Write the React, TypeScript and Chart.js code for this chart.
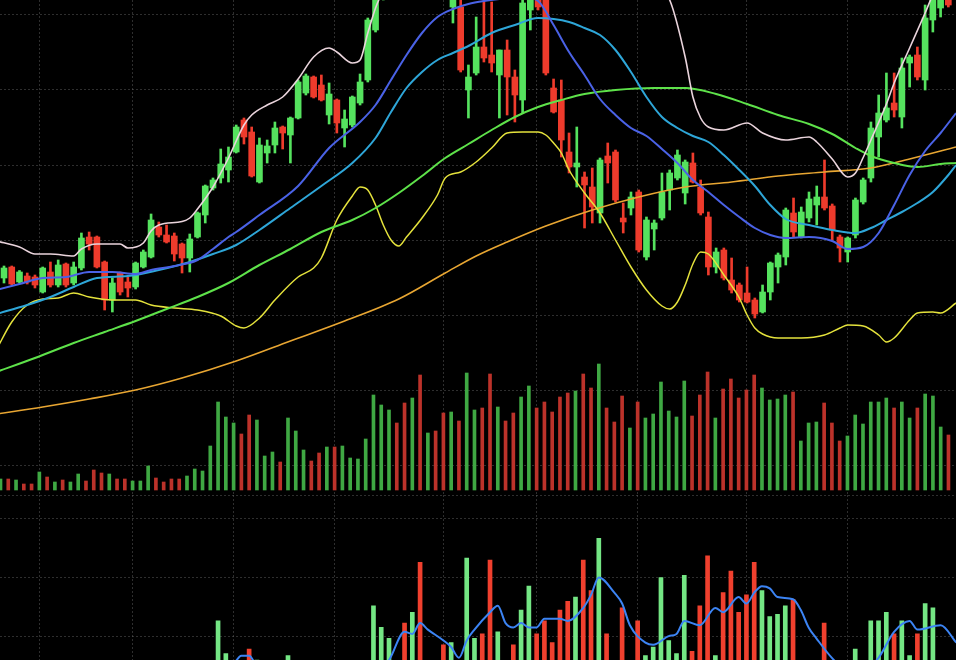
import React, { useEffect, useRef } from "react";
import { Chart, registerables } from "chart.js";

Chart.register(...registerables);

// ---- candles (price units) ----
const openP = [
  44.4, 46.6, 43.6, 44.8, 44.6, 41.6, 45.6, 43.0, 47.2, 43.4,
  46.4, 52.6, 52.6, 47.6, 40.0, 45.4, 43.6, 42.6, 46.6, 48.6,
  54.6, 53.0, 52.8, 51.2, 48.4, 52.6, 57.0, 62.4, 64.4, 66.0,
  69.6, 76.0, 73.6, 63.6, 69.4, 71.0, 74.6, 73.0, 76.4, 81.4,
  84.6, 83.0, 77.0, 80.0, 74.4, 75.0, 79.4, 84.0, 94.0, 101,
  105, 109, 105, 102, 111, 106, 114, 108, 98.6, 98.6,
  82, 85.4, 90.6, 89, 85, 90, 84.6, 80, 98, 103,
  101, 82.4, 80, 69.6, 66.6, 64.6, 62.6, 57.4, 68.8, 69.6,
  56.4, 58.4, 61.6, 48.6, 54.2, 56.4, 62, 64.4, 61.4, 67.4,
  62.6, 56.6, 46.6, 50, 44, 43, 41.4, 40, 37.6, 41.6,
  46.6, 48.6, 57.4, 52.6, 56.4, 59, 60.6, 58.8, 52.6, 49.6,
  53, 59.6, 64.4, 72.6, 76, 79.4, 76.6, 87.4, 89, 84,
  96, 98.4, 103,
];
const highP = [
  46.8, 46.8, 45.9, 45.4, 45.0, 46.6, 47.6, 48.0, 47.4, 47.6,
  53.4, 53.6, 52.8, 47.8, 44.4, 45.6, 44.6, 47.6, 50.0, 57.2,
  55.6, 55.0, 53.4, 51.4, 53.2, 57.6, 63.0, 64.4, 70.2, 70.6,
  75.0, 76.4, 74.6, 72.4, 72.0, 75.6, 74.8, 76.6, 84.0, 85.2,
  84.8, 85.0, 83.4, 80.2, 78.0, 80.8, 85.2, 96.4, 103.0, 106,
  110, 111, 107, 112, 113, 116, 115, 109, 104, 101,
  87, 96.6, 100.5, 99.6, 90, 92, 86, 101, 104, 104,
  102, 84.2, 84, 73.4, 74.6, 65.6, 66.4, 68.4, 71.4, 70,
  59.4, 61.6, 62, 56.6, 56, 65.4, 66, 70, 68, 69.4,
  64, 57.6, 50.4, 50.4, 48.4, 43.4, 46.6, 40.4, 43, 47.6,
  49.4, 58.4, 60.4, 58.6, 61.6, 62.8, 68, 59.2, 53, 52.6,
  60.4, 64.4, 75.6, 81, 85.4, 85.4, 88.4, 89, 90.6, 99,
  104, 104, 104,
];
const lowP = [
  43.4, 43.0, 43.4, 43.2, 42.4, 41.4, 42.6, 42.6, 42.6, 43.0,
  46.0, 50.0, 46.4, 38.0, 37.6, 41.0, 40.6, 42.2, 46.4, 48.4,
  52.6, 51.4, 47.8, 45.4, 45.6, 52.4, 55.4, 62.0, 63.4, 63.6,
  69.4, 71.2, 64.6, 63.4, 67.4, 69.4, 70.2, 67.4, 76.2, 81.0,
  80.4, 79.8, 75.2, 73.4, 70.6, 74.6, 79.0, 83.6, 93.6, 100,
  103, 104, 101, 101, 105, 105, 107, 101, 95.4, 85.6,
  76.4, 85, 87.6, 85.6, 76.4, 77, 75.6, 77.4, 94, 98,
  85, 77.4, 68.6, 65.4, 62.6, 54.4, 55.4, 55.4, 63.4, 59.6,
  53.4, 57, 49.6, 48, 50, 56, 58, 64, 59.2, 63.4,
  57, 45, 45.4, 44, 41.4, 39.6, 39.4, 36.4, 37.4, 40,
  43.4, 47, 52.6, 52.4, 55.6, 55, 58, 52, 47.6, 47.6,
  52.4, 59.2, 63.6, 68.6, 75.6, 76.6, 74.4, 82.6, 84, 82,
  93.6, 96.6, 98.6,
];
const closeP = [
  46.4, 43.2, 45.6, 43.6, 43.0, 46.4, 43.0, 47.0, 43.0, 46.6,
  52.4, 51.2, 46.6, 40.0, 43.4, 41.6, 42.4, 47.4, 49.6, 56.0,
  53.0, 51.6, 49.2, 48.4, 52.2, 57.4, 62.8, 64.0, 67.2, 68.6,
  74.6, 72.6, 64.8, 71.0, 70.8, 74.4, 73.4, 76.4, 83.6, 84.8,
  80.6, 80.0, 81.2, 75.4, 76.2, 80.6, 83.6, 96.0, 101.5, 105,
  109, 105, 102, 111, 106, 114, 108, 102, 102, 86,
  84.6, 90.6, 88.4, 87.4, 90, 84.6, 81, 99.4, 102, 98.6,
  85.4, 77.6, 72, 66.6, 67.4, 63, 58.6, 68, 67.4, 60,
  55.6, 60.6, 50, 56, 55.4, 61.6, 65.4, 69, 67.6, 63.6,
  57.4, 46.6, 49.6, 44.4, 42, 40, 39.6, 37.2, 41.6, 47.4,
  49, 58, 53.6, 57.6, 60.2, 60.6, 58.4, 54, 50.4, 52.4,
  60, 64, 74.4, 77.4, 78.4, 78, 86.4, 88.6, 84.6, 96.4,
  102, 103, 99,
];
const volume = [
  11, 11, 10, 6, 6, 18, 13, 8, 10, 8,
  16, 9, 20, 17, 16, 11, 11, 9, 9, 24,
  12, 8, 11, 11, 14, 21, 19, 44, 88, 73,
  67, 56, 75, 70, 34, 38, 28, 72, 59, 40,
  29, 37, 43, 43, 44, 32, 31, 51, 95, 85,
  80, 67, 87, 92, 115, 57, 59, 77, 78, 69,
  117, 80, 82, 116, 83, 69, 77, 93, 104, 82,
  88, 78, 93, 97, 99, 116, 102, 126, 82, 68,
  94, 62, 88, 72, 76, 108, 79, 73, 109, 74,
  95, 118, 72, 101, 111, 92, 100, 115, 102, 90,
  91, 95, 98, 49, 67, 68, 87, 67, 49, 54,
  75, 66, 88, 88, 92, 82, 88, 72, 82, 96,
  94, 63, 55,
];

// ---- moving-average style lines: [index, value] ----
const maWhite: [number, number][] = [
  [-1, 51.8], [2, 50.6], [4, 49.2], [6, 49.2], [9, 48.8], [10, 50.2], [12, 51.2], [15, 51.2],
  [16, 50.4], [18, 51.4], [19, 53.8], [20, 55], [23, 55.7], [24, 56.4], [25, 58.2], [27, 62.6],
  [29, 68.4], [31, 75], [32, 77], [34, 79], [36, 80.6], [38, 84.2], [40, 88.6], [42, 90.4],
  [43, 89.6], [45, 87.4], [46, 88], [47, 93.4], [48, 98.4], [49, 102], [51, 108], [55, 114],
  [61, 118], [69, 116], [79, 110], [84, 103], [86, 100], [88, 88.6], [89, 80.6], [90, 76.4],
  [91, 74.6], [93, 74], [96, 75.4], [98, 73.4], [101, 72], [104, 72.6], [105, 71.6], [107, 68.2],
  [109, 64.6], [110, 65.4], [111, 68.5], [112, 72], [114, 79.2], [115, 83.4], [117, 90.4],
  [119, 97.4], [120, 101], [123, 108],
];
const maBlue: [number, number][] = [
  [-1, 42], [2, 43.2], [5, 44.4], [8, 44.6], [11, 45.6], [14, 45.6], [17, 45.2], [19, 46],
  [22, 46.8], [25, 48], [27, 50.2], [29, 52.6], [30, 53.6], [33, 57], [38, 62.8], [42, 70.4],
  [46, 75.6], [48, 79], [50, 84], [52, 89], [54, 93.4], [56, 96.6], [58, 98.2], [60, 99.2],
  [62, 99.8], [64, 100.2], [67, 100.6], [69, 99.8], [71, 95], [73, 89.6], [75, 85], [77, 80.2],
  [79, 77], [81, 74.4], [83, 72.8], [85, 70.2], [87, 67.4], [89, 64], [91, 61.6], [93, 59],
  [95, 56.6], [97, 54.4], [99, 53], [101, 52.4], [104, 52.6], [107, 51.8], [109, 50.2],
  [111, 50.6], [113, 53.4], [115, 59], [117, 65], [119, 69.8], [121, 73.4], [123, 77.4],
];
const maCyan: [number, number][] = [
  [-1, 37.2], [3, 39], [6, 40.6], [9, 42.6], [12, 44.4], [16, 44.8], [20, 46], [24, 47.6],
  [27, 49.2], [30, 51], [33, 54], [37, 58.4], [41, 62.8], [45, 67.4], [48, 72.4], [50, 77.6],
  [52, 82.4], [54, 85.6], [56, 88], [58, 89.4], [60, 90.8], [63, 93.4], [66, 95], [69, 96.4],
  [71, 96.2], [73, 95.6], [75, 94.4], [77, 93], [79, 90], [81, 85.6], [83, 80.6], [85, 76.6],
  [87, 74.4], [89, 72.8], [91, 71.6], [93, 69], [95, 66], [97, 62.8], [99, 59], [101, 56.2],
  [104, 55], [107, 54], [110, 53.4], [112, 54.4], [114, 56], [116, 57.6], [118, 59.4],
  [120, 61.6], [122, 65], [123, 67],
];
const maGreen: [number, number][] = [
  [-1, 25.6], [4, 28.4], [9, 31.4], [13, 33.6], [17, 35.8], [21, 38.2], [25, 40.6], [29, 43.4],
  [33, 47], [37, 50.2], [41, 53.6], [45, 56], [48, 58.4], [51, 61.4], [54, 64.8], [57, 68.4],
  [60, 71.2], [63, 74], [66, 76.6], [69, 78.6], [72, 80], [75, 81.2], [79, 82], [84, 82.4],
  [88, 82.4], [92, 81.2], [96, 79.2], [100, 77], [104, 75.2], [107, 73.2], [110, 70.4],
  [112, 68.8], [115, 67.4], [118, 66.6], [121, 67.2], [123, 67.4],
];
const maYellow: [number, number][] = [
  [-1, 30], [1, 35.6], [3, 39], [5, 40.2], [7, 40.4], [9, 41.4], [11, 40.6], [14, 40], [17, 40],
  [19, 39], [22, 38.4], [25, 38], [28, 36.8], [30, 34.8], [31, 34.4], [33, 36.4], [35, 40],
  [38, 44.6], [40, 46.4], [41, 48.4], [43, 56], [45, 60.8], [46, 62.6], [47, 62], [48, 59],
  [49, 55], [50, 52], [51, 50.8], [52, 52.6], [54, 56.4], [56, 61], [57, 64.4], [59, 65.6],
  [61, 67.6], [63, 70.4], [65, 73.4], [67, 73.6], [69, 73.6], [70, 73], [71, 71.4], [72, 69.4],
  [73, 66], [75, 61.4], [77, 57.4], [79, 52], [81, 46.6], [83, 42], [85, 38.8], [86, 38.2],
  [87, 39.6], [88, 43], [89, 47.2], [90, 49.6], [91, 49.2], [93, 45], [95, 40.4], [96, 37],
  [97, 34.4], [98, 33.2], [100, 32.4], [103, 32.4], [106, 33], [108, 34.4], [109, 35],
  [111, 34.8], [113, 33], [114, 31.6], [115, 32.4], [117, 36], [118, 37.4], [120, 37.6],
  [121, 37.4], [123, 39.4],
];
const maOrange: [number, number][] = [
  [-1, 17.2], [5, 18.6], [11, 20.2], [17, 22], [23, 24.4], [30, 27.8], [37, 31.8], [44, 35.8],
  [51, 40.2], [57, 45.4], [61, 48.8], [65, 51.6], [70, 54.8], [76, 58], [82, 60.6], [88, 62.6],
  [94, 63.6], [100, 64.8], [106, 65.6], [112, 66.4], [117, 68.2], [123, 70.6],
];
const volAvg: [number, number][] = [
  [30, 68], [31, 72], [32, 72], [33, 67], [37, 58], [42, 52], [46, 58], [50, 70], [52, 83],
  [53, 82], [54, 87], [55, 84], [57, 79], [58, 76], [59, 71], [60, 79], [61, 84], [63, 92],
  [64, 95], [65, 87], [66, 85], [67, 87], [68, 85], [69, 85], [70, 89], [72, 89], [73, 88],
  [75, 94], [76, 100], [77, 108], [79, 101], [80, 96], [81, 86], [83, 78], [84, 77], [86, 81],
  [87, 82], [88, 88], [90, 86], [92, 94], [93, 92], [95, 99], [96, 96], [97, 101], [98, 104],
  [99, 103], [100, 99], [102, 98], [103, 93], [104, 85], [105, 80], [107, 71], [110, 62],
  [113, 71], [115, 83], [117, 88], [118, 84], [121, 86], [123, 78],
];

// ---- grid tick values ----
const priceGrid = [97, 82, 67, 52, 37, 22, 7];
const timeGrid = [5, 17, 30, 43, 57, 69, 82, 96, 109];
const volGrid = [146, 135, 108, 81];

const UP = "#55e25e";
const DOWN = "#ee3b2c";
const VOL_UP = "#3fa843";
const VOL_DOWN = "#bc322a";
const SUB_UP = "#74e684";
const SUB_DOWN = "#f0402e";
const GRID = "rgba(115,115,115,0.4)";

const idx = closeP.map((_, i) => i);
const isUp = (i: number) => closeP[i] >= openP[i];

function lineDs(pts: [number, number][], color: string, width: number, xId: string, yId: string) {
  return {
    type: "line" as const,
    data: pts.map(([x, y]) => ({ x, y })),
    xAxisID: xId,
    yAxisID: yId,
    borderColor: color,
    borderWidth: width,
    pointRadius: 0,
    cubicInterpolationMode: "monotone" as const,
    fill: false,
    order: 0,
  };
}

const gridScale = (ticks: number[], extra: any) => ({
  type: "linear",
  display: true,
  offset: false,
  bounds: "data",
  ticks: { display: false },
  grid: { color: GRID, drawTicks: false, lineWidth: 1, offset: false },
  border: { display: false, dash: [2, 2] },
  afterBuildTicks: (s: any) => {
    s.ticks = ticks.map((v) => ({ value: v }));
  },
  ...extra,
});

const hiddenX = (min: number, max: number) => ({
  type: "linear",
  display: false,
  offset: false,
  bounds: "data",
  grid: { offset: false },
  min,
  max,
});

export default function App() {
  const topRef = useRef<HTMLCanvasElement>(null);
  const botRef = useRef<HTMLCanvasElement>(null);

  useEffect(() => {
    document.body.style.margin = "0";
    document.body.style.background = "#000";
    const top = new Chart(topRef.current as HTMLCanvasElement, {
      type: "bar",
      data: {
        datasets: [
          lineDs(maWhite, "#ead4dc", 1.6, "xc", "y"),
          lineDs(maBlue, "#4a62e6", 2, "xc", "y"),
          lineDs(maCyan, "#2ea6d8", 2, "xc", "y"),
          lineDs(maGreen, "#5ee24a", 2, "xc", "y"),
          lineDs(maYellow, "#e4e23c", 1.5, "xc", "y"),
          lineDs(maOrange, "#e8a632", 1.6, "xc", "y"),
          {
            type: "bar",
            data: idx.map((i) => ({ x: i, y: [openP[i], closeP[i]] })),
            xAxisID: "xc",
            yAxisID: "y",
            backgroundColor: idx.map((i) => (isUp(i) ? UP : DOWN)),
            barThickness: 6,
            minBarLength: 1,
            grouped: false,
            order: 1,
          },
          {
            type: "bar",
            data: idx.map((i) => ({ x: i, y: [lowP[i], highP[i]] })),
            xAxisID: "xc",
            yAxisID: "y",
            backgroundColor: idx.map((i) => (isUp(i) ? UP : DOWN)),
            barThickness: 2,
            grouped: false,
            order: 2,
          },
          {
            type: "bar",
            data: idx.map((i) => ({ x: i, y: volume[i] })),
            xAxisID: "xv",
            yAxisID: "yv",
            backgroundColor: idx.map((i) => (isUp(i) ? VOL_UP : VOL_DOWN)),
            barThickness: 3,
            grouped: false,
            order: 3,
          },
        ] as any,
      },
      options: {
        animation: false,
        responsive: false,
        events: [],
        layout: { padding: 0 },
        plugins: { legend: { display: false }, tooltip: { enabled: false } },
        scales: {
          xc: hiddenX(-0.517, 122.99),
          xv: gridScale(timeGrid, { min: -0.064, max: 122.97, position: "bottom" }),
          y: gridScale(priceGrid, { min: 1, max: 100, position: "left" }),
          yv: { type: "linear", min: -5, max: 490, display: false },
        } as any,
      },
    });

    const bot = new Chart(botRef.current as HTMLCanvasElement, {
      type: "bar",
      data: {
        datasets: [
          lineDs(volAvg, "#3c84f4", 2, "x", "y"),
          {
            type: "bar",
            data: idx.map((i) => ({ x: i, y: volume[i] })),
            xAxisID: "x",
            yAxisID: "y",
            backgroundColor: idx.map((i) => (isUp(i) ? SUB_UP : SUB_DOWN)),
            barThickness: 4,
            grouped: false,
            order: 1,
          },
        ] as any,
      },
      options: {
        animation: false,
        responsive: false,
        events: [],
        layout: { padding: 0 },
        plugins: { legend: { display: false }, tooltip: { enabled: false } },
        scales: {
          x: gridScale(timeGrid, { min: -0.064, max: 122.97, position: "bottom" }),
          y: gridScale(volGrid, { min: 70, max: 146, position: "left" }),
        } as any,
      },
    });

    return () => {
      top.destroy();
      bot.destroy();
    };
  }, []);

  return (
    <div
      style={{
        position: "absolute",
        left: 0,
        top: 0,
        width: 956,
        height: 660,
        background: "#000",
        overflow: "hidden",
      }}
    >
      <canvas ref={topRef} width={956} height={495} style={{ display: "block", width: 956, height: 495 }} />
      <canvas ref={botRef} width={956} height={165} style={{ display: "block", width: 956, height: 165 }} />
    </div>
  );
}
